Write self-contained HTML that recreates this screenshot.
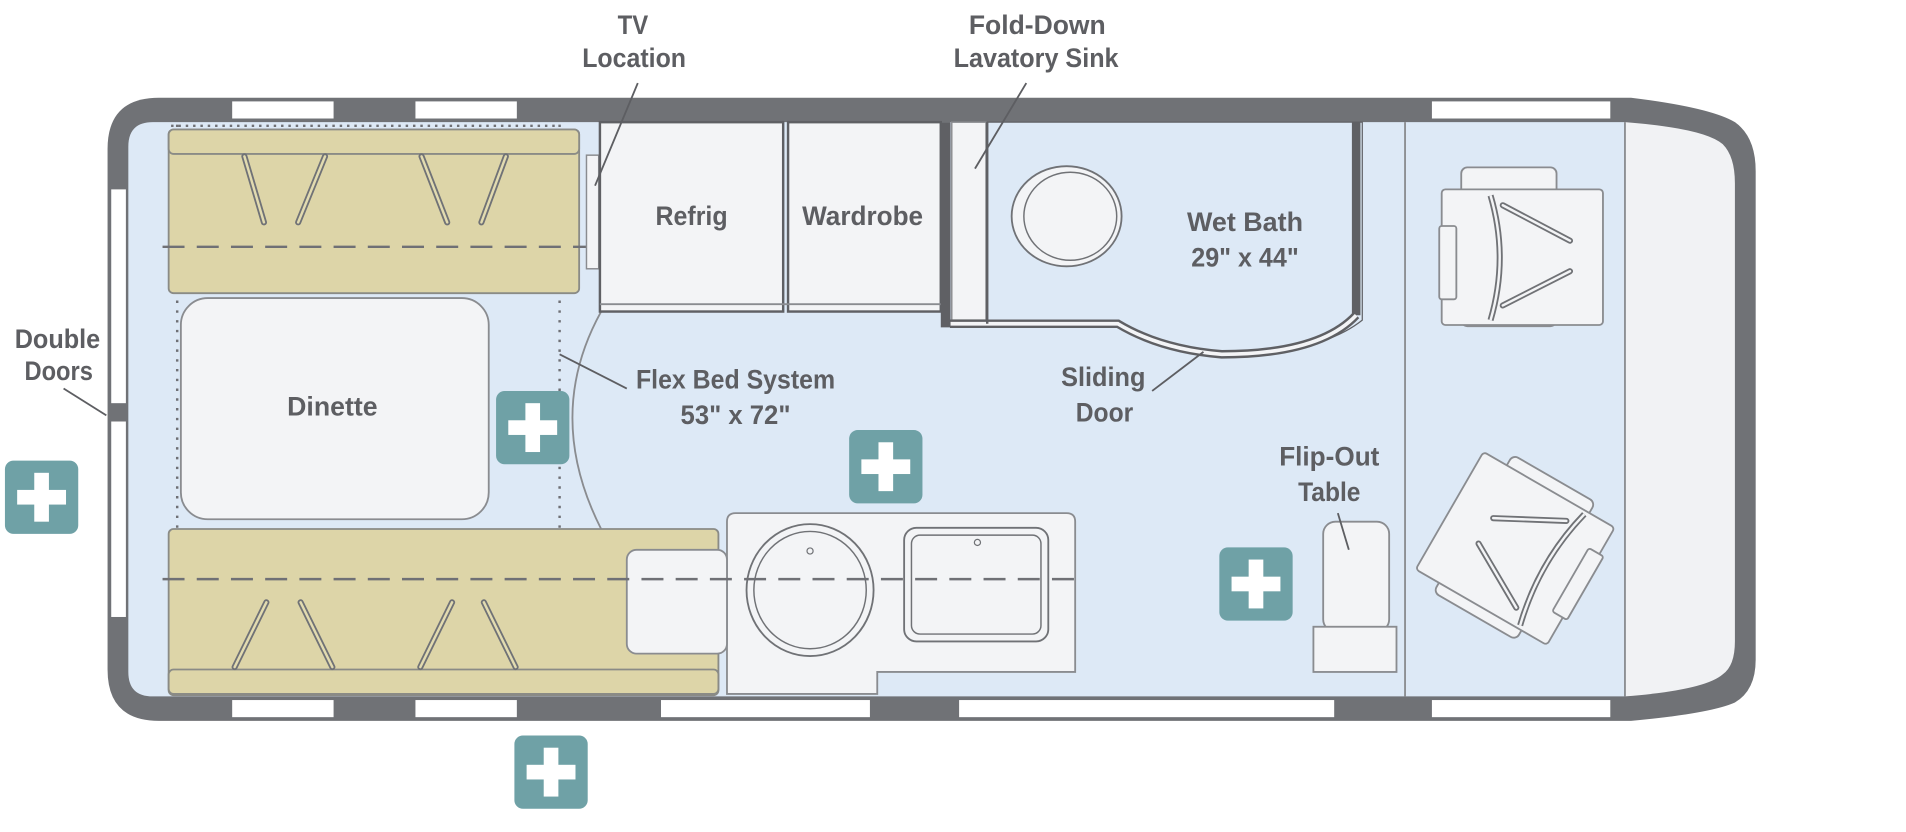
<!DOCTYPE html>
<html><head><meta charset="utf-8"><style>
html,body{margin:0;padding:0;background:#fff;}
svg{display:block;}
text{font-family:"Liberation Sans",sans-serif;font-weight:bold;fill:#5d5e62;font-size:22px;text-anchor:middle;}
</style></head><body>
<svg width="1906" height="832" viewBox="0 0 1560 681" xmlns="http://www.w3.org/2000/svg">
<path d="M130,80 L1335,80 Q1400,88 1420,100 Q1437,112 1437,140 L1437,540 Q1437,565 1420,575 Q1400,584 1335,590 L130,590 Q88,590 88,548 L88,122 Q88,80 130,80 Z" fill="#707276"/>
<path d="M125,100 L1330,100 L1330,570 L125,570 Q105,570 105,550 L105,120 Q105,100 125,100 Z" fill="#dde9f6"/>
<path d="M1330,100 Q1395,105 1410,118 Q1420,128 1420,150 L1420,525 Q1420,545 1410,552 Q1395,565 1330,570 Z" fill="#f1f2f4"/>
<line x1="1330" y1="100" x2="1330" y2="570" stroke="#8a8c90" stroke-width="1.5"/>
<line x1="1150" y1="100" x2="1150" y2="570" stroke="#8a8c90" stroke-width="1.5"/>
<g fill="#fff">
<rect x="190" y="83" width="83" height="14"/><rect x="340" y="83" width="83" height="14"/><rect x="1172" y="83" width="146" height="14"/>
<rect x="190" y="573" width="83" height="14"/><rect x="340" y="573" width="83" height="14"/><rect x="541" y="573" width="171" height="14"/><rect x="785" y="573" width="307" height="14"/><rect x="1172" y="573" width="146" height="14"/>
<rect x="91" y="155" width="12" height="175"/><rect x="91" y="345" width="12" height="160"/>
</g>
<g stroke="#6f7075" stroke-width="2" fill="none">
<line x1="145" y1="102" x2="145" y2="568" stroke-dasharray="2,6"/>
<line x1="458" y1="102" x2="458" y2="568" stroke-dasharray="2,6"/>
<line x1="140" y1="103" x2="458" y2="103" stroke-dasharray="2,4"/>
<line x1="140" y1="567" x2="458" y2="567" stroke-dasharray="2,4"/>
</g>
<rect x="138" y="106" width="336" height="134" rx="4" fill="#ddd5a8" stroke="#8a8b86" stroke-width="1.5"/>
<rect x="138" y="106" width="336" height="20" rx="4" fill="#ddd5a8" stroke="#8a8b86" stroke-width="1.5"/>
<g stroke="#707276" stroke-width="5" stroke-linecap="round"><line x1="200" y1="128" x2="216" y2="182"/><line x1="266" y1="128" x2="244" y2="182"/><line x1="345" y1="128" x2="366" y2="182"/><line x1="414" y1="128" x2="394" y2="182"/></g>
<g stroke="#e2dbb0" stroke-width="2" stroke-linecap="round"><line x1="200" y1="128" x2="216" y2="182"/><line x1="266" y1="128" x2="244" y2="182"/><line x1="345" y1="128" x2="366" y2="182"/><line x1="414" y1="128" x2="394" y2="182"/></g>
<line x1="133" y1="202" x2="484" y2="202" stroke="#6f7075" stroke-width="2" stroke-dasharray="18,10"/>
<rect x="138" y="433" width="450" height="136" rx="4" fill="#ddd5a8" stroke="#8a8b86" stroke-width="1.5"/>
<rect x="138" y="548" width="450" height="20" rx="4" fill="#ddd5a8" stroke="#8a8b86" stroke-width="1.5"/>
<g stroke="#707276" stroke-width="5" stroke-linecap="round"><line x1="218" y1="493" x2="192" y2="546"/><line x1="246" y1="493" x2="272" y2="546"/><line x1="370" y1="493" x2="344" y2="546"/><line x1="396" y1="493" x2="422" y2="546"/></g>
<g stroke="#e2dbb0" stroke-width="2" stroke-linecap="round"><line x1="218" y1="493" x2="192" y2="546"/><line x1="246" y1="493" x2="272" y2="546"/><line x1="370" y1="493" x2="344" y2="546"/><line x1="396" y1="493" x2="422" y2="546"/></g>
<rect x="148" y="244" width="252" height="181" rx="22" fill="#f3f4f6" stroke="#8a8c90" stroke-width="1.5"/>
<path d="M492,255 Q445,340 492,433" fill="none" stroke="#8a8c90" stroke-width="1.5"/>
<rect x="480" y="127" width="10" height="93" fill="#f3f4f6" stroke="#8a8c90" stroke-width="1.2"/>
<rect x="491" y="100" width="150" height="155" fill="#f3f4f6" stroke="#5f6064" stroke-width="2"/>
<rect x="645" y="100" width="125" height="155" fill="#f3f4f6" stroke="#5f6064" stroke-width="2"/>
<line x1="491" y1="249" x2="770" y2="249" stroke="#8a8c90" stroke-width="1.5"/>
<path d="M770,100 L778,100 L778,268 L770,268 Z" fill="#5f6064"/>
<rect x="779" y="100" width="28" height="162" fill="#f3f4f6" stroke="#8a8c90" stroke-width="1.2"/>
<path d="M808,100 L1115,100 L1115,262 Q1080,290 1000,290 Q960,288 920,268 L778,268 L778,262 L808,262 Z" fill="#dde9f6" stroke="#5f6064" stroke-width="1"/>
<path d="M1110,100 L1110,258" stroke="#5f6064" stroke-width="7" fill="none"/>
<path d="M778,265 L915,265 Q950,286 1000,290 Q1080,290 1110,258" fill="none" stroke="#5f6064" stroke-width="7"/>
<path d="M778,265 L915,265 Q950,286 1000,290 Q1080,290 1110,258" fill="none" stroke="#f3f4f6" stroke-width="3"/>
<line x1="808" y1="100" x2="808" y2="265" stroke="#5f6064" stroke-width="2"/>
<ellipse cx="873" cy="177" rx="45" ry="41" fill="#f3f4f6" stroke="#707276" stroke-width="1.5"/>
<ellipse cx="876" cy="177" rx="38" ry="36" fill="none" stroke="#707276" stroke-width="1.2"/>
<path d="M602,420 L873,420 Q880,420 880,427 L880,550 L718,550 L718,568 L595,568 L595,427 Q595,420 602,420 Z" fill="#f3f4f6" stroke="#8a8c90" stroke-width="1.5"/>
<rect x="513" y="450" width="82" height="85" rx="8" fill="#f3f4f6" stroke="#8a8c90" stroke-width="1.5"/>
<ellipse cx="663" cy="483" rx="52" ry="54" fill="#f3f4f6" stroke="#707276" stroke-width="1.5"/>
<ellipse cx="663" cy="483" rx="46" ry="48" fill="none" stroke="#707276" stroke-width="1.2"/>
<circle cx="663" cy="451" r="2.5" fill="none" stroke="#707276"/>
<rect x="740" y="432" width="118" height="93" rx="10" fill="#f3f4f6" stroke="#707276" stroke-width="1.5"/>
<rect x="746" y="438" width="106" height="81" rx="7" fill="none" stroke="#707276" stroke-width="1.2"/>
<circle cx="800" cy="444" r="2.5" fill="none" stroke="#707276"/>
<line x1="133" y1="474" x2="888" y2="474" stroke="#6f7075" stroke-width="2" stroke-dasharray="18,10"/>
<rect x="1083" y="427" width="54" height="90" rx="10" fill="#f3f4f6" stroke="#8a8c90" stroke-width="1.5"/>
<rect x="1075" y="513" width="68" height="37" fill="#f3f4f6" stroke="#8a8c90" stroke-width="1.5"/>
<g fill="#f3f4f6" stroke="#8a8c90" stroke-width="1.5">
<rect x="1196" y="137" width="78" height="130" rx="5"/>
<rect x="1180" y="155" width="132" height="111" rx="3"/>
<rect x="1178" y="185" width="14" height="60" rx="2"/>
</g>
<path d="M1220,160 Q1235,211 1220,262" stroke="#707276" stroke-width="5" fill="none"/>
<path d="M1220,160 Q1235,211 1220,262" stroke="#f3f4f6" stroke-width="2" fill="none"/>
<g stroke="#707276" stroke-width="5" stroke-linecap="round"><line x1="1230" y1="168" x2="1285" y2="197"/><line x1="1230" y1="250" x2="1285" y2="222"/></g>
<g stroke="#f3f4f6" stroke-width="2" stroke-linecap="round"><line x1="1230" y1="168" x2="1285" y2="197"/><line x1="1230" y1="250" x2="1285" y2="222"/></g>
<g transform="rotate(30 1243 450)">
<g fill="#f3f4f6" stroke="#8a8c90" stroke-width="1.5">
<rect x="1200" y="385" width="78" height="130" rx="5"/>
<rect x="1178" y="395" width="124" height="111" rx="3"/>
<rect x="1292" y="420" width="14" height="60" rx="2"/>
</g>
<path d="M1275,398 Q1262,450 1275,503" stroke="#707276" stroke-width="5" fill="none"/>
<path d="M1275,398 Q1262,450 1275,503" stroke="#f3f4f6" stroke-width="2" fill="none"/>
<g stroke="#707276" stroke-width="5" stroke-linecap="round"><line x1="1265" y1="410" x2="1212" y2="438"/><line x1="1265" y1="492" x2="1212" y2="462"/></g>
<g stroke="#f3f4f6" stroke-width="2" stroke-linecap="round"><line x1="1265" y1="410" x2="1212" y2="438"/><line x1="1265" y1="492" x2="1212" y2="462"/></g>
</g>
<g stroke="#5d5e62" stroke-width="1.5">
<line x1="522" y1="68" x2="487" y2="152"/>
<line x1="840" y1="68" x2="798" y2="138"/>
<line x1="52" y1="318" x2="87" y2="340"/>
<line x1="513" y1="318" x2="458" y2="290"/>
<line x1="943" y1="320" x2="985" y2="288"/>
<line x1="1095" y1="420" x2="1104" y2="450"/>
</g>
<g lengthAdjust="spacingAndGlyphs">
<text x="518" y="28" textLength="25" lengthAdjust="spacingAndGlyphs">TV</text><text x="519" y="55" textLength="85" lengthAdjust="spacingAndGlyphs">Location</text>
<text x="849" y="28" textLength="112" lengthAdjust="spacingAndGlyphs">Fold-Down</text><text x="848" y="55" textLength="135" lengthAdjust="spacingAndGlyphs">Lavatory Sink</text>
<text x="47" y="285" textLength="70" lengthAdjust="spacingAndGlyphs">Double</text><text x="48" y="311" textLength="56" lengthAdjust="spacingAndGlyphs">Doors</text>
<text x="566" y="184" textLength="59" lengthAdjust="spacingAndGlyphs">Refrig</text><text x="706" y="184" textLength="99" lengthAdjust="spacingAndGlyphs">Wardrobe</text>
<text x="1019" y="189" textLength="95" lengthAdjust="spacingAndGlyphs">Wet Bath</text><text x="1019" y="218" textLength="88" lengthAdjust="spacingAndGlyphs">29" x 44"</text>
<text x="272" y="340" textLength="74" lengthAdjust="spacingAndGlyphs">Dinette</text>
<text x="602" y="318" textLength="163" lengthAdjust="spacingAndGlyphs">Flex Bed System</text><text x="602" y="347" textLength="90" lengthAdjust="spacingAndGlyphs">53" x 72"</text>
<text x="903" y="316" textLength="69" lengthAdjust="spacingAndGlyphs">Sliding</text><text x="904" y="345" textLength="47" lengthAdjust="spacingAndGlyphs">Door</text>
<text x="1088" y="381" textLength="82" lengthAdjust="spacingAndGlyphs">Flip-Out</text><text x="1088" y="410" textLength="51" lengthAdjust="spacingAndGlyphs">Table</text>
</g>
<g id="p">
<rect x="4" y="377" width="60" height="60" rx="7" fill="#6fa1a6"/>
<rect x="28" y="387" width="12" height="40" fill="#fff"/><rect x="14" y="401" width="40" height="12" fill="#fff"/>
</g>
<use href="#p" transform="translate(402,-57)"/>
<use href="#p" transform="translate(691,-25)"/>
<use href="#p" transform="translate(994,71)"/>
<use href="#p" transform="translate(417,225)"/>
</svg>
</body></html>
